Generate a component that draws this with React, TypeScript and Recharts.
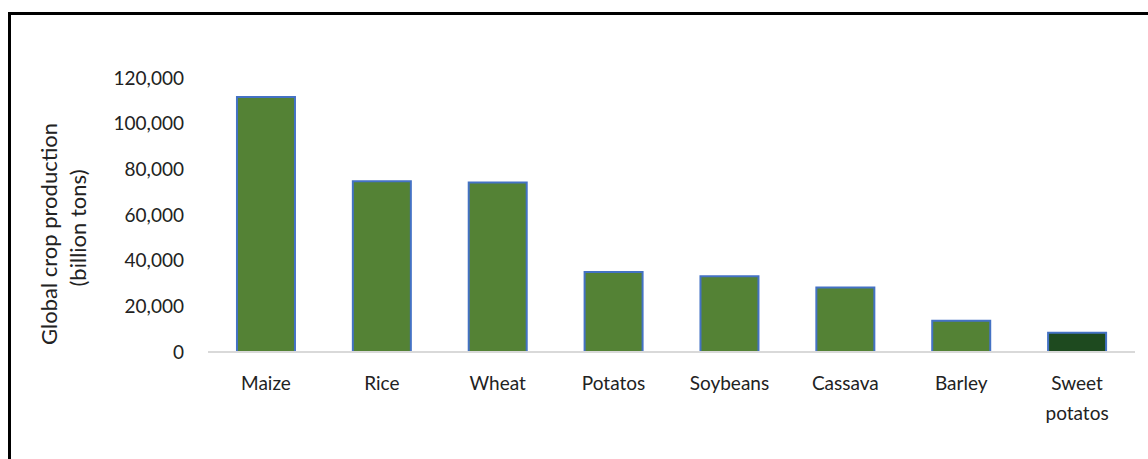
import { BarChart, Bar, XAxis, YAxis, Cell } from 'recharts'

const crops = ['Maize', 'Rice', 'Wheat', 'Potatos', 'Soybeans', 'Cassava', 'Barley', 'Sweet potatos']
const production = [111700, 74800, 74200, 35000, 33200, 28200, 13700, 8400]
const yTicks = [0, 20000, 40000, 60000, 80000, 100000, 120000]

const FONT = 'Lato, "Open Sans", sans-serif'
const TEXT = '#222222'

const data = crops.map((name, i) => ({ name, value: production[i] }))

function CropTick(props: any) {
  const { x, y, payload } = props
  const words: string[] = payload.value === 'Sweet potatos' ? ['Sweet', 'potatos'] : [payload.value]
  return (
    <text x={x} y={y + 30} textAnchor="middle" fill={TEXT} fontSize={19} fontFamily={FONT}>
      {words.map((w, i) => (
        <tspan key={w} x={x} dy={i === 0 ? 0 : 30}>
          {w}
        </tspan>
      ))}
    </text>
  )
}

function YTitle() {
  // two stacked rotated lines, like the original
  return (
    <g fontFamily={FONT} fontSize={22} fill={TEXT}>
      <text x={48} y={234} textAnchor="middle" dominantBaseline="central" transform="rotate(-90 48 234)">
        Global crop production
      </text>
      <text x={77} y={228} textAnchor="middle" dominantBaseline="central" transform="rotate(-90 77 228)">
        (billion tons)
      </text>
    </g>
  )
}

export default function App() {
  return (
    <div style={{ position: 'absolute', left: 0, top: 0, width: 1148, height: 459, overflow: 'hidden', background: '#fff' }}>
      <div
        style={{
          position: 'absolute',
          left: 8,
          top: 12,
          width: 1200,
          height: 500,
          borderTop: '3px solid #000',
          borderLeft: '3px solid #000',
        }}
      />
      <div style={{ position: 'absolute', left: 0, top: 0 }}>
        <BarChart width={1148} height={459} data={data} margin={{ top: 78, right: 13, bottom: 77, left: 0 }} barCategoryGap="25%">
          <XAxis
            dataKey="name"
            height={30}
            interval={0}
            tickLine={false}
            axisLine={{ stroke: '#d9d9d9', strokeWidth: 2 }}
            tick={<CropTick />}
          />
          <YAxis
            width={208}
            domain={[0, 120000]}
            ticks={yTicks}
            axisLine={false}
            tickLine={false}
            tickSize={0}
            tickMargin={24}
            tick={{ fill: TEXT, fontSize: 19, fontFamily: FONT }}
            tickFormatter={(v: number) => v.toLocaleString('en-US')}
            label={<YTitle />}
          />
          <Bar dataKey="value" stroke="#4472c4" strokeWidth={2} isAnimationActive={false}>
            {data.map((d, i) => (
              <Cell key={d.name} fill={i === data.length - 1 ? '#1e4a1f' : '#548235'} />
            ))}
          </Bar>
        </BarChart>
      </div>
    </div>
  )
}
